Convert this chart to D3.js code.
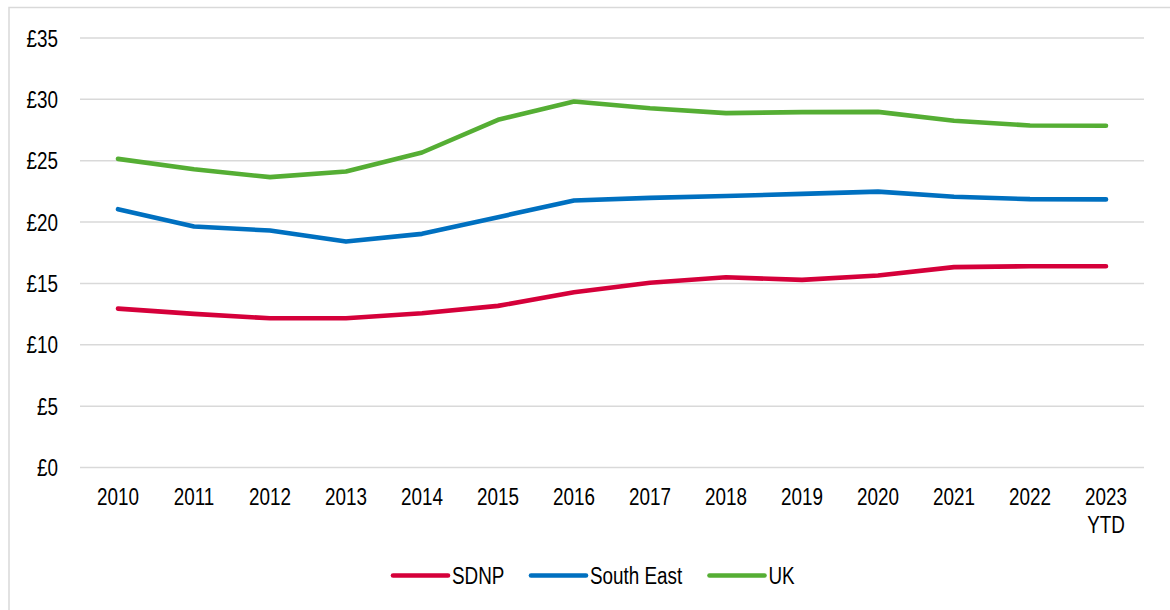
<!DOCTYPE html>
<html>
<head>
<meta charset="utf-8">
<script src="https://cdn.jsdelivr.net/npm/d3@7"></script>
<style>
  html, body { margin: 0; padding: 0; background: #ffffff; }
  svg { display: block; }
  text { font-family: "Liberation Sans", Arial, sans-serif; fill: #000; }
</style>
</head>
<body>
<svg id="chart" width="1170" height="610"></svg>
<script>
// Average values by year, in pounds
const years = ["2010", "2011", "2012", "2013", "2014", "2015", "2016", "2017", "2018", "2019", "2020", "2021", "2022", "2023 YTD"];
const sdnp = [12.95, 12.52, 12.16, 12.16, 12.57, 13.17, 14.28, 15.05, 15.5, 15.29, 15.65, 16.33, 16.4, 16.4];
const southEast = [21.05, 19.64, 19.31, 18.41, 19.04, 20.4, 21.76, 21.97, 22.12, 22.3, 22.48, 22.06, 21.87, 21.85];
const uk = [25.15, 24.31, 23.66, 24.12, 25.67, 28.33, 29.83, 29.27, 28.88, 28.96, 28.98, 28.26, 27.87, 27.85];
const yTicks = [0, 5, 10, 15, 20, 25, 30, 35];

const seriesNames = ["SDNP", "South East", "UK"];
const seriesColors = ["#d5003a", "#0070c0", "#55ae34"];
const series = [sdnp, southEast, uk].map((vals, i) => ({ name: seriesNames[i], color: seriesColors[i], values: vals }));

const svg = d3.select("#chart");
const plot = { left: 80, right: 1144, top: 38, bottom: 467.5 };
const fontSize = 23;
const narrow = "scale(0.82,1)"; // condensed lettering

// Outer frame
svg.append("rect")
  .attr("x", 9).attr("y", 7.5)
  .attr("width", 1200).attr("height", 700)
  .attr("fill", "none").attr("stroke", "#d9d9d9").attr("stroke-width", 1.5);

const x = d3.scaleBand().domain(years).range([plot.left, plot.right]);
const y = d3.scaleLinear().domain([0, 35]).range([plot.bottom, plot.top]);
const cx = d => x(d) + x.bandwidth() / 2;

// Horizontal gridlines
svg.append("g")
  .selectAll("line")
  .data(yTicks)
  .join("line")
  .attr("x1", plot.left).attr("x2", plot.right)
  .attr("y1", d => y(d)).attr("y2", d => y(d))
  .attr("stroke", "#d9d9d9").attr("stroke-width", 1.5);

// Y axis labels
const yAxis = d3.axisLeft(y).tickValues(yTicks).tickSize(0).tickPadding(0).tickFormat(d => "£" + d);
const yg = svg.append("g").attr("transform", "translate(58,0)").call(yAxis);
yg.select(".domain").remove();
yg.selectAll("text")
  .attr("font-size", fontSize)
  .attr("font-family", null)
  .attr("x", 0)
  .attr("dy", "0.35em")
  .attr("transform", narrow);

// X axis labels (second line for "YTD")
const xAxis = d3.axisBottom(x).tickSize(0).tickPadding(0).tickFormat(() => "");
const xg = svg.append("g").attr("transform", `translate(0,${plot.bottom})`).call(xAxis);
xg.select(".domain").remove();
xg.selectAll(".tick text").remove();
xg.selectAll(".tick")
  .append("text")
  .attr("text-anchor", "middle")
  .attr("font-size", fontSize)
  .attr("transform", narrow)
  .each(function(d) {
    const parts = d.split(" ");
    const t = d3.select(this);
    parts.forEach((p, i) => {
      t.append("tspan").attr("x", 0).attr("y", 37.5 + i * 28).text(p);
    });
  });

// Series lines
const line = d3.line()
  .x((d, i) => cx(years[i]))
  .y(d => y(d));

svg.append("g")
  .selectAll("path")
  .data(series)
  .join("path")
  .attr("d", d => line(d.values))
  .attr("fill", "none")
  .attr("stroke", d => d.color)
  .attr("stroke-width", 4.6)
  .attr("stroke-linecap", "round")
  .attr("stroke-linejoin", "round");

// Legend
const legendY = 575.5;
const legendX = [393, 531, 709.5];
const legend = svg.append("g")
  .selectAll("g")
  .data(series)
  .join("g")
  .attr("transform", (d, i) => `translate(${legendX[i]},${legendY})`);
legend.append("line")
  .attr("x1", 0).attr("x2", 55)
  .attr("y1", 0).attr("y2", 0)
  .attr("stroke", d => d.color)
  .attr("stroke-width", 4.6)
  .attr("stroke-linecap", "round");
legend.append("g")
  .attr("transform", "translate(59,0)")
  .append("text")
  .attr("x", 0)
  .attr("y", 0)
  .attr("dy", "0.36em")
  .attr("font-size", fontSize)
  .attr("transform", narrow)
  .text(d => d.name);
</script>
</body>
</html>
